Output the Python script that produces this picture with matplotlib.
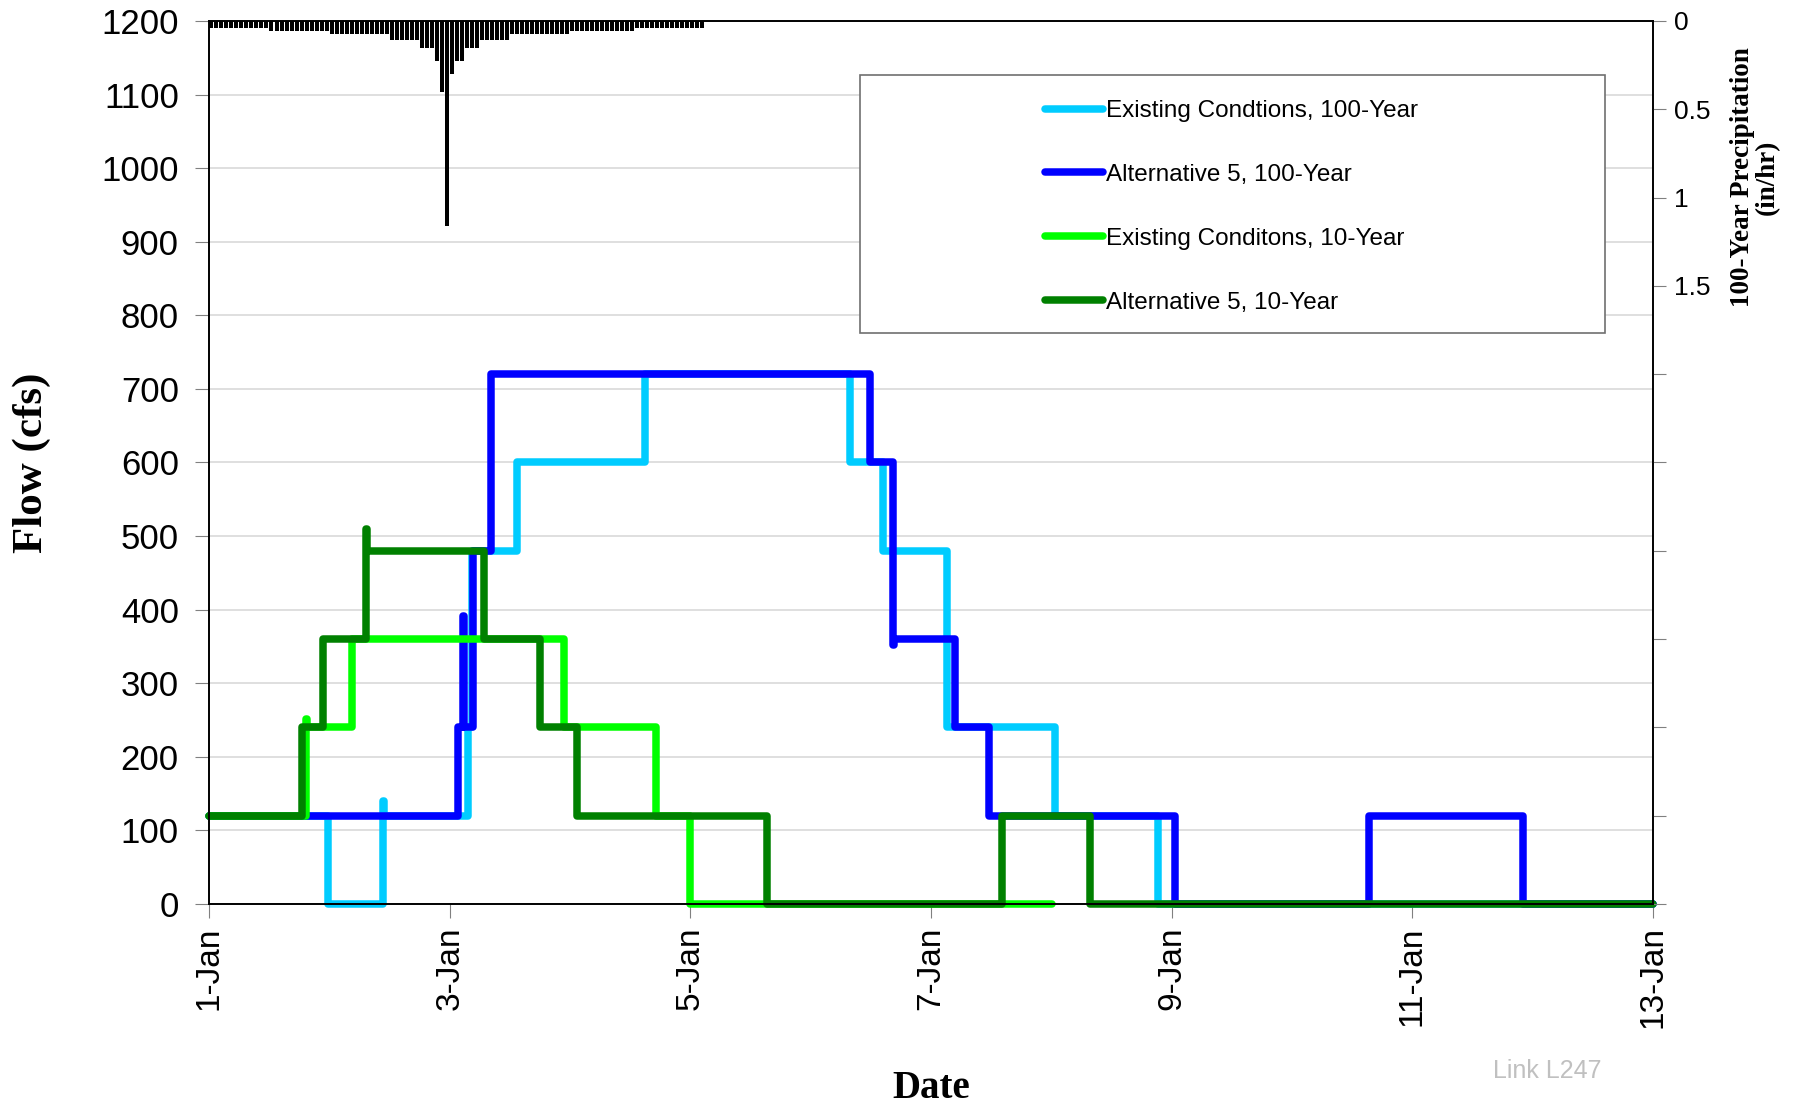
import numpy as np
import matplotlib
matplotlib.use("Agg")
import matplotlib.pyplot as plt
from matplotlib.patches import Rectangle
from matplotlib.ticker import FuncFormatter

# flow hydrographs: day offset from 1-Jan and flow (cfs), stepped
EX100_T = [0, 0.984, 1.441, 1.448, 2.150, 2.180, 2.554, 3.620, 5.324, 5.601, 6.132, 7.027, 7.891, 12]
EX100_Q = [120, 0, 140, 120, 240, 480, 600, 720, 600, 480, 240, 120, 0, 0]

ALT100_T = [0, 2.069, 2.111, 2.118, 2.194, 2.338, 5.495, 5.684, 5.690, 6.196, 6.481, 8.030, 9.638, 10.918, 12]
ALT100_Q = [120, 240, 392, 240, 480, 720, 600, 352, 360, 240, 120, 0, 120, 0, 0]

EX10_T = [0, 0.803, 0.810, 1.183, 2.947, 3.712, 4.000, 7.008]
EX10_Q = [120, 252, 240, 360, 240, 120, 0, 0]

ALT10_T = [0, 0.768, 0.947, 1.300, 1.307, 2.285, 2.753, 3.053, 4.640, 6.592, 7.324, 12]
ALT10_Q = [120, 240, 360, 510, 480, 360, 240, 120, 0, 120, 0, 0]

# hourly 100-year rainfall (in/hr), starting 1-Jan 00:00
PRECIP = [
    0.040, 0.040, 0.040, 0.040, 0.040, 0.040, 0.040, 0.040, 0.040, 0.040, 0.040, 0.040,
    0.058, 0.058, 0.058, 0.058, 0.058, 0.058, 0.058, 0.058, 0.058, 0.058, 0.058, 0.058,
    0.076, 0.076, 0.076, 0.076, 0.076, 0.076, 0.076, 0.076, 0.076, 0.076, 0.076, 0.076,
    0.108, 0.108, 0.108, 0.108, 0.108, 0.108,
    0.155, 0.155, 0.155,
    0.227, 0.400, 1.160, 0.300, 0.227, 0.227,
    0.155, 0.155, 0.155,
    0.108, 0.108, 0.108, 0.108, 0.108, 0.108,
    0.076, 0.076, 0.076, 0.076, 0.076, 0.076, 0.076, 0.076, 0.076, 0.076, 0.076, 0.076,
    0.058, 0.058, 0.058, 0.058, 0.058, 0.058, 0.058, 0.058, 0.058, 0.058, 0.058, 0.058, 0.058,
    0.040, 0.040, 0.040, 0.040, 0.040, 0.040, 0.040, 0.040, 0.040, 0.040, 0.040, 0.040, 0.040, 0.040,
]

DATE_TICKS = [0, 2, 4, 6, 8, 10, 12]
DATE_LABELS = ["1-Jan", "3-Jan", "5-Jan", "7-Jan", "9-Jan", "11-Jan", "13-Jan"]
SERIES = [
    ("Existing Condtions, 100-Year", EX100_T, EX100_Q, "#00CCFF"),
    ("Alternative 5, 100-Year", ALT100_T, ALT100_Q, "#0000FF"),
    ("Existing Conditons, 10-Year", EX10_T, EX10_Q, "#00FF00"),
    ("Alternative 5, 10-Year", ALT10_T, ALT10_Q, "#008000"),
]

plt.rcParams["font.family"] = ["Liberation Sans", "DejaVu Sans"]
SERIF = ["Liberation Serif", "DejaVu Serif"]

fig = plt.figure(figsize=(17.97, 11.10), dpi=100)
ax = fig.add_axes([0.1165, 0.1856, 0.8032, 0.7955])

handles = []
for name, t, q, col in SERIES:
    ln, = ax.plot(t, q, drawstyle="steps-post", color=col, lw=5.4, label=name,
                  solid_capstyle="round", solid_joinstyle="round", clip_on=False)
    handles.append(ln)

ax.set_xlim(0, 12)
ax.set_ylim(0, 1200)
ax.set_yticks(np.arange(0, 1201, 100))
ax.set_xticks(DATE_TICKS)
ax.set_xticklabels(DATE_LABELS, rotation=90)
ax.yaxis.grid(True, color="#D9D9D9", lw=1.2)
ax.set_axisbelow(True)
ax.tick_params(axis="both", direction="out", length=10, color="#808080", labelsize=24)
ax.tick_params(axis="y", pad=12, labelsize=25)
ax.tick_params(axis="x", pad=6)
for s in ax.spines.values():
    s.set_linewidth(1.2)
ax.set_xlabel("Date", family=SERIF, fontweight="bold", fontsize=28, labelpad=30)
ax.set_ylabel("Flow (cfs)", family=SERIF, fontweight="bold", fontsize=31, labelpad=36)

# rainfall hanging from the top on the secondary axis
ax2 = ax.twinx()
hours = np.arange(len(PRECIP)) / 24.0
ax2.bar(hours, PRECIP, width=0.8 / 24, align="edge", color="black")
ax2.set_ylim(5, 0)
ax2.set_yticks(np.arange(0, 5.01, 0.5))
ax2.yaxis.set_major_formatter(FuncFormatter(lambda v, p: f"{v:g}" if v <= 1.5 else ""))
ax2.tick_params(axis="y", direction="out", length=9, color="#808080", labelsize=19, pad=6)
for s in ax2.spines.values():
    s.set_linewidth(1.2)
fig.text(0.9765, 0.84, "100-Year Precipitation\n(in/hr)", family=SERIF, fontweight="bold",
         fontsize=19.5, rotation=90, ha="center", va="center", linespacing=1.0)

# legend box
box = Rectangle((859.6 / 1797, 1 - 333.5 / 1110), 745 / 1797, 258 / 1110,
                transform=fig.transFigure, facecolor="white", edgecolor="#707070", lw=1.2, zorder=3)
ax2.add_patch(box)
leg = ax2.legend(handles=handles, loc="upper left", bbox_to_anchor=(1033 / 1797, 1 - 88 / 1110),
                 bbox_transform=fig.transFigure, frameon=False, fontsize=17.5, handlelength=2.4,
                 handletextpad=0.1, labelspacing=1.72, borderpad=0)
leg.set_zorder(4)

fig.text(1547 / 1797, 1 - 1071 / 1110, "Link L247", color="#C0C0C0", fontsize=18, ha="center", va="center")

fig.savefig("out.png", dpi=100)
